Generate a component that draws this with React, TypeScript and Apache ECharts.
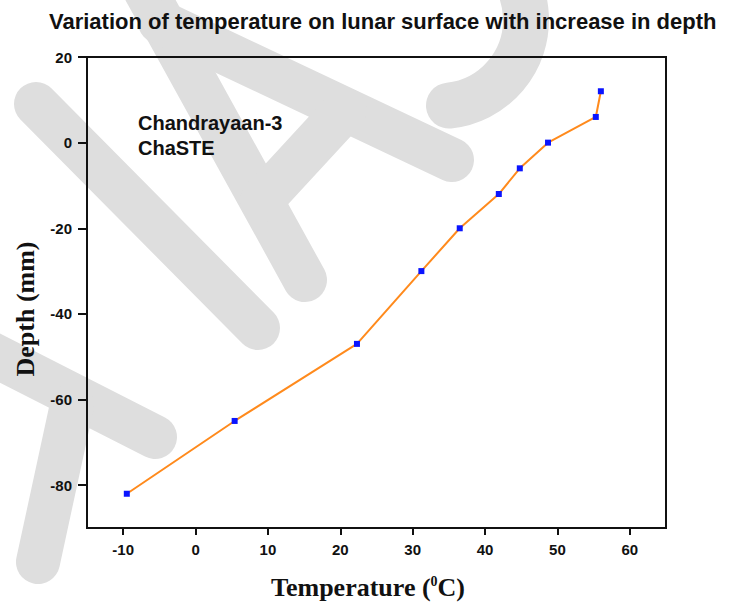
import React, { useEffect, useRef } from "react";
import * as echarts from "echarts";

const temperatures = [-9.5, 5.4, 22.3, 31.2, 36.5, 41.9, 44.8, 48.7, 55.3, 56.0];
const depths = [-82, -65, -47, -30, -20, -12, -6, 0, 6, 12];
const xTicks = [-10, 0, 10, 20, 30, 40, 50, 60];
const yTicks = [-80, -60, -40, -20, 0, 20];

const titleText = "Variation of temperature on lunar surface with increase in depth";
const annotationLines = ["Chandrayaan-3", "ChaSTE"];

const SANS = "'Liberation Sans', Arial, Helvetica, sans-serif";
const SERIF = "'Liberation Serif', 'Times New Roman', serif";
const WM = "#dedede";

export default function App() {
  const ref = useRef<HTMLDivElement>(null);
  useEffect(() => {
    if (!ref.current) return;
    const chart = echarts.init(ref.current, null, { renderer: "svg" });
    const band = (points: number[][]) => ({
      type: "polyline",
      z: -100,
      silent: true,
      shape: { points },
      style: { stroke: WM, lineWidth: 44, lineCap: "round", lineJoin: "round", fill: null },
    });
    chart.setOption({
      animation: false,
      backgroundColor: "#ffffff",
      title: {
        text: titleText,
        left: 44,
        top: 5,
        textStyle: { fontFamily: SANS, fontWeight: "bold", fontSize: 22, color: "#111" },
      },
      grid: {
        left: 87,
        top: 57,
        right: 73,
        bottom: 74,
        show: true,
        borderColor: "#111",
        borderWidth: 2,
        backgroundColor: "transparent",
      },
      xAxis: {
        type: "value",
        min: -15,
        max: 65,
        splitLine: { show: false },
        axisLine: { show: true, onZero: false, lineStyle: { color: "#111", width: 2 } },
        axisTick: { show: true, customValues: xTicks, length: 7, lineStyle: { color: "#111", width: 2 } },
        axisLabel: {
          customValues: xTicks,
          margin: 14,
          fontFamily: SANS,
          fontWeight: "bold",
          fontSize: 15,
          color: "#111",
        },
      },
      yAxis: {
        type: "value",
        min: -90,
        max: 20,
        splitLine: { show: false },
        axisLine: { show: true, onZero: false, lineStyle: { color: "#111", width: 2 } },
        axisTick: { show: true, customValues: yTicks, length: 9, lineStyle: { color: "#111", width: 2 } },
        axisLabel: {
          customValues: yTicks,
          margin: 15,
          fontFamily: SANS,
          fontWeight: "bold",
          fontSize: 15,
          color: "#111",
        },
      },
      series: [
        {
          type: "line",
          data: temperatures.map((t, i) => [t, depths[i]]),
          symbol: "rect",
          symbolSize: 6,
          lineStyle: { color: "#ff8a1c", width: 2 },
          itemStyle: { color: "#0a14ff" },
          z: 3,
        },
      ],
      graphic: [
        band([[36, 104], [258, 328]]),
        band([[145, -10], [305, 280]]),
        band([[160, 22], [452, 160]]),
        band([[345, 110], [262, 200]]),
        band([[-20, 348], [155, 437]]),
        band([[72, 405], [38, 562]]),
        {
          type: "arc",
          z: -100,
          silent: true,
          shape: { cx: 440, cy: 20, r: 86, startAngle: -Math.PI / 2, endAngle: (84 * Math.PI) / 180, clockwise: true },
          style: { stroke: WM, lineWidth: 46, lineCap: "round", fill: null },
        },
        {
          type: "text",
          left: 138,
          top: 110,
          z: 10,
          style: {
            text: annotationLines.join("\n"),
            fontFamily: SANS,
            fontWeight: "bold",
            fontSize: 20,
            lineHeight: 25,
            fill: "#111",
          },
        },
        {
          type: "text",
          x: 368,
          y: 587,
          z: 10,
          style: {
            text: "{a|Temperature (}{s|0}{a|C)}",
            align: "center",
            verticalAlign: "middle",
            rich: {
              a: { fontFamily: SERIF, fontWeight: "bold", fontSize: 26, fill: "#111" },
              s: { fontFamily: SERIF, fontWeight: "bold", fontSize: 14, fill: "#111", verticalAlign: "top", padding: [0, 0, 11, 0] },
            },
          },
        },
        {
          type: "text",
          x: 25,
          y: 309,
          rotation: Math.PI / 2,
          z: 10,
          style: {
            text: "Depth (mm)",
            align: "center",
            verticalAlign: "middle",
            fontFamily: SERIF,
            fontWeight: "bold",
            fontSize: 26,
            fill: "#111",
          },
        },
      ],
    });
    return () => chart.dispose();
  }, []);
  return <div ref={ref} style={{ position: "fixed", left: 0, top: 0, width: 739, height: 602 }} />;
}
